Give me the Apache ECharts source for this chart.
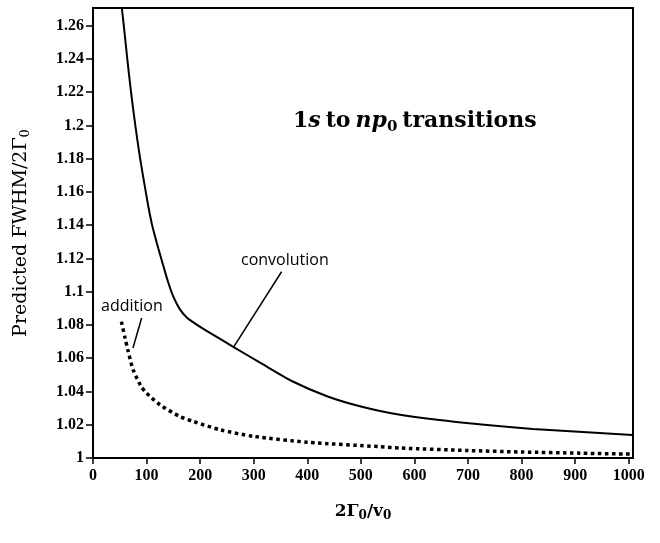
<!DOCTYPE html>
<html>
<head>
<meta charset="utf-8">
<script src="https://cdn.jsdelivr.net/npm/echarts@6/dist/echarts.min.js"></script>
<style>
    html, body { margin: 0; padding: 0; background: #fff; }
    #chart { width: 660px; height: 543px; }
</style>
</head>
<body>
<div id="chart"></div>
<script>
// x = 2Γ0/v0, y = predicted FWHM / 2Γ0
let convolutionX = [54, 57.5, 64, 71, 79, 88, 98.5, 104, 110, 116, 122, 130, 140, 150, 162, 175, 190, 212, 261, 311, 373, 438, 500, 573, 697, 821, 1007];
let convolutionY = [1.27, 1.26, 1.24, 1.22, 1.2, 1.18, 1.16, 1.15, 1.1405, 1.133, 1.126, 1.117, 1.106, 1.097, 1.0895, 1.0845, 1.081, 1.0765, 1.067, 1.0575, 1.046, 1.037, 1.031, 1.026, 1.021, 1.0175, 1.0138];
let additionX = [53, 60, 65, 75, 90, 100, 125, 162, 187, 237, 300, 400, 535, 573, 700, 800, 909, 1007];
let additionY = [1.082, 1.072, 1.065, 1.053, 1.043, 1.039, 1.032, 1.025, 1.022, 1.017, 1.013, 1.0095, 1.0068, 1.006, 1.0045, 1.0036, 1.0029, 1.0023];
let xTicks = [0, 100, 200, 300, 400, 500, 600, 700, 800, 900, 1000];
let yTicks = [1, 1.02, 1.04, 1.06, 1.08, 1.1, 1.12, 1.14, 1.16, 1.18, 1.2, 1.22, 1.24, 1.26];
// leader lines from the labels to the curves
let additionLeader = [[90.8, 1.0842], [74.6, 1.0661]];
let convolutionLeader = [[352, 1.112], [263, 1.067]];

let serif = 'DejaVu Serif';
let tickFont = 'Liberation Serif';

function pairs(xs, ys) {
    return xs.map(function (x, i) { return [x, ys[i]]; });
}

let chart = echarts.init(document.getElementById('chart'));
let option = {
    animation: false,
    backgroundColor: '#fff',
    title: {
        text: '{n|1}{i|s} {b|to} {i|np}{sub|0} {b|transitions}',
        left: 288,
        top: 103,
        textStyle: {
            rich: {
                n: { fontFamily: serif, fontSize: 22, color: '#000', lineHeight: 27 },
                i: { fontFamily: serif, fontStyle: 'italic', fontSize: 22, color: '#000', lineHeight: 27 },
                b: { fontFamily: serif, fontWeight: 'bold', fontSize: 22, color: '#000', lineHeight: 27 },
                sub: { fontFamily: serif, fontSize: 15, color: '#000', lineHeight: 13, verticalAlign: 'bottom' }
            }
        }
    },
    grid: {
        left: 93,
        right: 27,
        top: 8,
        bottom: 85,
        show: true,
        borderColor: '#000',
        borderWidth: 2,
        containLabel: false,
        outerBoundsMode: 'none'
    },
    xAxis: {
        type: 'value',
        min: 0,
        max: 1008,
        name: '{t|2Γ}{s|0}{t|/v}{s|0}',
        nameLocation: 'middle',
        nameGap: 44,
        nameTextStyle: {
            rich: {
                t: { fontFamily: serif, fontWeight: 'bold', fontSize: 17, color: '#000', lineHeight: 20 },
                s: { fontFamily: serif, fontWeight: 'bold', fontSize: 12, color: '#000', lineHeight: 10, verticalAlign: 'bottom' }
            }
        },
        splitLine: { show: false },
        axisLine: { lineStyle: { color: '#000', width: 2 } },
        axisTick: { length: 6, lineStyle: { color: '#000', width: 1.5 }, customValues: xTicks },
        axisLabel: {
            customValues: xTicks,
            formatter: function (v) { return String(v); },
            color: '#000',
            fontFamily: tickFont,
            fontWeight: 'bold',
            fontSize: 16,
            margin: 10
        }
    },
    yAxis: {
        type: 'value',
        min: 1,
        max: 1.2706,
        name: '{t|Predicted FWHM/2Γ}{s|0}',
        nameLocation: 'middle',
        nameRotate: 90,
        nameGap: 61,
        nameTextStyle: {
            rich: {
                t: { fontFamily: serif, fontSize: 19, color: '#000', lineHeight: 22 },
                s: { fontFamily: serif, fontSize: 13, color: '#000', lineHeight: 11, verticalAlign: 'bottom' }
            }
        },
        splitLine: { show: false },
        axisLine: { lineStyle: { color: '#000', width: 2 } },
        axisTick: { length: 7, lineStyle: { color: '#000', width: 1.5 }, customValues: yTicks },
        axisLabel: {
            customValues: yTicks,
            formatter: function (v) { return String(v); },
            color: '#000',
            fontFamily: tickFont,
            fontWeight: 'bold',
            fontSize: 16,
            margin: 9
        }
    },
    graphic: [{
        type: 'text',
        left: 101,
        top: 298,
        style: { text: 'addition', font: '16px "Open Sans"', fill: '#000' }
    }, {
        type: 'text',
        left: 241,
        top: 252,
        style: { text: 'convolution', font: '16px "Open Sans"', fill: '#000' }
    }],
    series: [{
        name: 'convolution',
        type: 'line',
        data: pairs(convolutionX, convolutionY),
        smooth: 0.25,
        showSymbol: false,
        lineStyle: { color: '#000', width: 2 },
        markLine: {
            silent: true,
            symbol: 'none',
            label: { show: false },
            lineStyle: { color: '#000', width: 1.5, type: 'solid' },
            data: [[{ coord: convolutionLeader[0] }, { coord: convolutionLeader[1] }]]
        }
    }, {
        name: 'addition',
        type: 'line',
        data: pairs(additionX, additionY),
        smooth: 0.25,
        showSymbol: false,
        lineStyle: { color: '#000', width: 3.5, type: [3.5, 3.5] },
        markLine: {
            silent: true,
            symbol: 'none',
            label: { show: false },
            lineStyle: { color: '#000', width: 1.5, type: 'solid' },
            data: [[{ coord: additionLeader[0] }, { coord: additionLeader[1] }]]
        }
    }]
};
chart.setOption(option);
</script>
</body>
</html>
